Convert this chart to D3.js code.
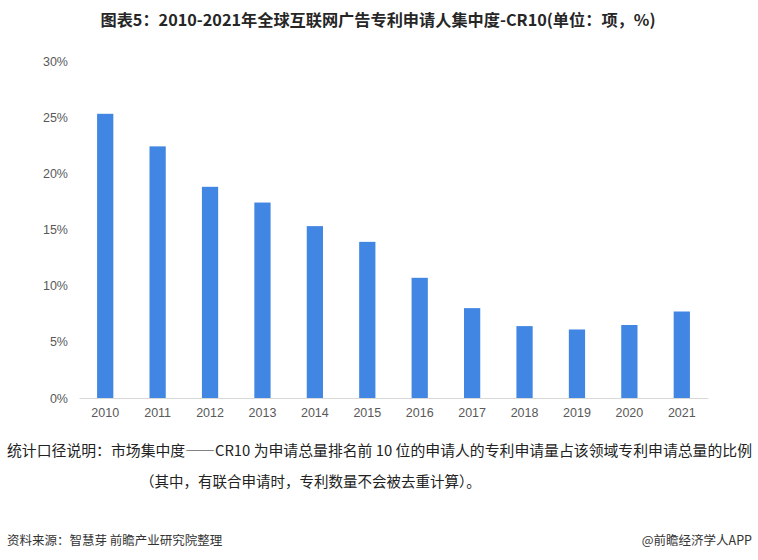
<!DOCTYPE html>
<html lang="zh">
<head>
  <meta charset="UTF-8">
  <title>全球互联网广告专利申请人集中度-CR10</title>
  <script src="https://d3js.org/d3.v7.min.js"></script>
  <style>
    body { margin: 0; background: #fff; }
    svg { display: block; font-family: "Noto Sans CJK SC", "Noto Sans", sans-serif; }
    .tick text { fill: #595959; font-size: 12.5px; font-family: "Liberation Sans", Arial, sans-serif; }
  </style>
</head>
<body>
  <svg id="chart"></svg>
  <script>
    const years = ["2010", "2011", "2012", "2013", "2014", "2015", "2016", "2017", "2018", "2019", "2020", "2021"];
    const cr10 = [25.3, 22.4, 18.8, 17.4, 15.3, 13.9, 10.7, 8.0, 6.4, 6.1, 6.5, 7.7];
    const yTicks = [0, 5, 10, 15, 20, 25, 30];

    const width = 758, height = 560;
    const svg = d3.select("#chart").attr("width", width).attr("height", height);

    const x = d3.scaleBand().domain(years).range([79, 708]).paddingInner(0.69).paddingOuter(0.345);
    const y = d3.scaleLinear().domain([0, 30]).range([398, 61]);

    // title
    svg.append("text")
      .attr("x", 378).attr("y", 26)
      .attr("text-anchor", "middle")
      .attr("font-size", 16).attr("font-weight", "bold")
      .attr("fill", "#262626")
      .attr("textLength", 555).attr("lengthAdjust", "spacingAndGlyphs")
      .text("图表5：2010-2021年全球互联网广告专利申请人集中度-CR10(单位：项，%)");

    // bars
    svg.selectAll(".bar")
      .data(years)
      .enter().append("rect")
      .attr("class", "bar")
      .attr("x", d => x(d))
      .attr("width", x.bandwidth())
      .attr("y", (d, i) => y(cr10[i]))
      .attr("height", (d, i) => y(0) - y(cr10[i]))
      .attr("fill", "#4186e2");

    // y axis (labels only)
    const yAxis = svg.append("g")
      .attr("transform", "translate(70,0)")
      .call(d3.axisLeft(y).tickValues(yTicks).tickFormat(d => d + "%").tickSize(0).tickPadding(2));
    yAxis.select(".domain").remove();

    // x axis
    const xAxis = svg.append("g")
      .attr("transform", `translate(0,${y(0)})`)
      .call(d3.axisBottom(x).tickSize(0).tickPadding(10));
    xAxis.select(".domain").attr("stroke", "#d9d9d9").attr("stroke-width", 1.2);

    // notes
    svg.append("text")
      .attr("x", 7).attr("y", 456)
      .attr("font-size", 14.5).attr("fill", "#222")
      .attr("textLength", 745).attr("lengthAdjust", "spacingAndGlyphs")
      .text("统计口径说明：市场集中度——CR10 为申请总量排名前 10 位的申请人的专利申请量占该领域专利申请总量的比例");

    svg.append("text")
      .attr("x", 140).attr("y", 487)
      .attr("font-size", 14.5).attr("fill", "#222")
      .text("（其中，有联合申请时，专利数量不会被去重计算）。");

    svg.append("text")
      .attr("x", 7).attr("y", 545)
      .attr("font-size", 12.5).attr("fill", "#333")
      .text("资料来源：智慧芽 前瞻产业研究院整理");

    svg.append("text")
      .attr("x", 752).attr("y", 545)
      .attr("text-anchor", "end")
      .attr("font-size", 12.5).attr("fill", "#333")
      .text("@前瞻经济学人APP");
  </script>
</body>
</html>
